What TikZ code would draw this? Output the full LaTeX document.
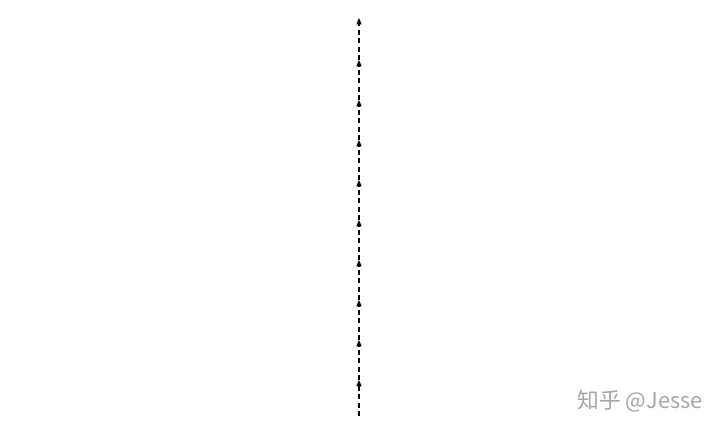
\documentclass[tikz,border=0pt]{standalone}
\usepackage{fontspec}
\newfontfamily\cjk{Noto Sans CJK SC}
\usetikzlibrary{arrows.meta,positioning}

\begin{document}
\begin{tikzpicture}[node distance=1cm,on grid,
    flow/.style={-{Stealth[length=4.5pt,width=3.6pt,inset=0pt]},line width=0.75pt,dash pattern=on 3.4pt off 2.6pt}]
   \useasboundingbox (0,0) rectangle (18,10.775);

   \coordinate (p0) at (8.975,0.375);
   \coordinate[above=0.9cm of p0] (p1);
   \coordinate[above=of p1] (p2);
   \coordinate[above=of p2] (p3);
   \coordinate[above=of p3] (p4);
   \coordinate[above=of p4] (p5);
   \coordinate[above=of p5] (p6);
   \coordinate[above=of p6] (p7);
   \coordinate[above=of p7] (p8);
   \coordinate[above=of p8] (p9);
   \coordinate[above=1.05cm of p9] (p10);

    \path[flow]
    (p0) edge (p1)
    (p1) edge (p2)
    (p2) edge (p3)
    (p3) edge (p4)
    (p4) edge (p5)
    (p5) edge (p6)
    (p6) edge (p7)
    (p7) edge (p8)
    (p8) edge (p9)
    (p9) edge (p10);

   \node[text=black!35, font=\cjk\fontsize{15.5}{15.5}\selectfont] (mark) at (16,0.75) {知乎 @Jesse};
\end{tikzpicture}
\end{document}
